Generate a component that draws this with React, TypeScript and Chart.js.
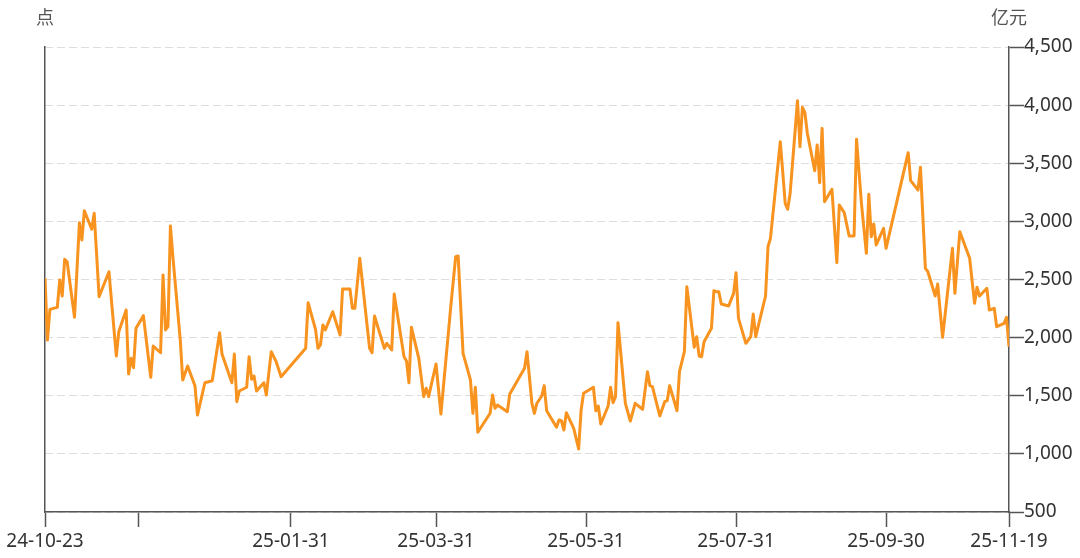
import React, { useEffect, useRef } from "react";
import { Chart, registerables } from "chart.js";

Chart.register(...registerables);

// Day offsets counted from 2024-10-23
const DAYS: number[] = [
  0, 1, 2, 5, 6, 7, 8, 9, 12, 14, 15, 16, 19, 20, 22, 26, 29, 30, 33, 34,
  35, 36, 37, 40, 43, 44, 47, 48, 49, 50, 51, 52, 55, 56, 58, 61, 62, 65, 68, 71,
  72, 76, 77, 78, 79, 82, 83, 84, 85, 86, 89, 90, 92, 94, 96, 106, 107, 110, 111, 112,
  113, 114, 117, 120, 121, 124, 125, 126, 128, 132, 133, 134, 138, 139, 141, 142, 146, 147, 148, 149,
  152, 154, 155, 156, 159, 161, 165, 167, 168, 170, 173, 174, 175, 176, 181, 182, 183, 184, 188, 189,
  195, 196, 198, 199, 200, 202, 203, 204, 208, 209, 210, 211, 212, 215, 217, 218, 219, 223, 224, 225,
  226, 229, 230, 231, 232, 233, 236, 238, 240, 243, 245, 246, 247, 250, 252, 253, 254, 257, 258, 260,
  261, 264, 265, 266, 267, 268, 271, 272, 273, 274, 275, 278, 280, 281, 282, 285, 287, 288, 289, 293,
  294, 295, 299, 301, 302, 303, 306, 307, 308, 309, 310, 313, 314, 315, 316, 317, 320, 322, 323, 325,
  327, 329, 330, 332, 334, 335, 336, 337, 338, 341, 342, 351, 352, 355, 356, 358, 359, 362, 363, 365,
  369, 370, 372, 376, 378, 379, 380, 383, 384, 386, 387, 390, 391, 392,
];

const VALUES: number[] = [
  2510, 1979, 2243, 2261, 2496, 2358, 2674, 2653, 2175, 2989, 2840, 3092, 2932, 3070, 2352, 2567, 1842, 2051, 2238, 1687,
  1822, 1741, 2080, 2189, 1659, 1928, 1870, 2539, 2066, 2094, 2960, 2696, 1980, 1636, 1756, 1584, 1334, 1612, 1629, 2042,
  1856, 1612, 1859, 1449, 1541, 1573, 1836, 1641, 1670, 1541, 1612, 1506, 1879, 1793, 1664, 1908, 2300, 2071, 1908, 1937,
  2109, 2066, 2223, 2023, 2418, 2418, 2252, 2252, 2682, 1908, 1870, 2186, 1908, 1951, 1894, 2375, 1836, 1799, 1612, 2089,
  1822, 1492, 1564, 1492, 1773, 1343, 2266, 2696, 2702, 1865, 1636, 1349, 1573, 1186, 1349, 1506, 1392, 1420, 1363, 1515,
  1736, 1879, 1435, 1349, 1435, 1498, 1587, 1371, 1229, 1291, 1285, 1205, 1354, 1220, 1042, 1377, 1521, 1573, 1371, 1412,
  1257, 1412, 1573, 1440, 1492, 2129, 1435, 1283, 1435, 1383, 1707, 1587, 1578, 1326, 1449, 1458, 1587, 1371, 1707, 1879,
  2438, 1917, 2008, 1842, 1836, 1965, 2080, 2404, 2395, 2395, 2289, 2272, 2381, 2559, 2166, 1951, 2008, 2203, 2008, 2358,
  2782, 2854, 3685, 3155, 3104, 3241, 4038, 3642, 3981, 3935, 3758, 3436, 3657, 3333, 3800, 3169, 3276, 2645, 3141, 3075,
  2874, 2874, 3706, 3155, 2725, 3233, 2868, 2977, 2797, 2940, 2768, 3591, 3350, 3270, 3465, 2596, 2567, 2358, 2461, 2003,
  2768, 2381, 2911, 2682, 2295, 2433, 2358, 2424, 2238, 2252, 2094, 2123, 2175, 1922,
];

const TICK_DAYS: number[] = [0, 38, 100, 159, 220, 281, 342, 392];
const TICK_LABELS: string[] = ["24-10-23", "", "25-01-31", "25-03-31", "25-05-31", "25-07-31", "25-09-30", "25-11-19"];

const Y_MIN = 500;
const Y_MAX = 4500;
const Y_STEP = 500;

const LEFT_TITLE = "点";
const RIGHT_TITLE = "亿元";

const AXIS_COLOR = "#555555";
const LABEL_COLOR = "#333333";
const TICK_FONT = { family: '"Noto Sans", "Noto Sans CJK SC", sans-serif', size: 19 };

const titlePlugin = {
  id: "cornerTitles",
  afterDraw(chart: any) {
    const { ctx, chartArea } = chart;
    ctx.save();
    ctx.font = '18px "Noto Sans CJK SC", sans-serif';
    ctx.fillStyle = "#555555";
    ctx.textAlign = "center";
    ctx.textBaseline = "middle";
    ctx.fillText(LEFT_TITLE, chartArea.left, chartArea.top - 30);
    ctx.fillText(RIGHT_TITLE, chartArea.right, chartArea.top - 30);
    ctx.restore();
  },
};

export default function App() {
  const canvasRef = useRef<HTMLCanvasElement | null>(null);

  useEffect(() => {
    if (!canvasRef.current) return;
    const chart = new Chart(canvasRef.current, {
      type: "line",
      data: {
        datasets: [
          {
            data: DAYS.map((d, i) => ({ x: d, y: VALUES[i] })),
            yAxisID: "y",
            borderColor: "#F7931E",
            borderWidth: 3,
            pointRadius: 0,
            fill: false,
            tension: 0,
            borderJoinStyle: "round",
          },
        ],
      },
      options: {
        animation: false,
        responsive: false,
        maintainAspectRatio: false,
        layout: { padding: { top: 47, left: 0, right: 0, bottom: 0 } },
        plugins: {
          legend: { display: false },
          tooltip: { enabled: false },
        },
        scales: {
          x: {
            type: "linear",
            min: TICK_DAYS[0],
            max: TICK_DAYS[TICK_DAYS.length - 1],
            afterBuildTicks: (scale: any) => {
              scale.ticks = TICK_DAYS.map((v) => ({ value: v }));
            },
            afterFit: (scale: any) => {
              scale.height = 46;
            },
            ticks: {
              autoSkip: false,
              maxRotation: 0,
              padding: 3,
              font: TICK_FONT,
              color: LABEL_COLOR,
              callback: (v: any) => {
                const i = TICK_DAYS.indexOf(Number(v));
                return i >= 0 ? TICK_LABELS[i] : "";
              },
            },
            grid: {
              drawOnChartArea: false,
              drawTicks: true,
              tickLength: 15,
              tickColor: AXIS_COLOR,
              tickWidth: 1.5,
            },
            border: { display: true, color: AXIS_COLOR, width: 1.5 },
          },
          yL: {
            position: "left",
            min: Y_MIN,
            max: Y_MAX,
            ticks: { display: false },
            grid: { display: false, drawTicks: false },
            border: { display: true, color: AXIS_COLOR, width: 1.5 },
            afterFit: (scale: any) => {
              scale.width = 45;
            },
          },
          y: {
            position: "right",
            min: Y_MIN,
            max: Y_MAX,
            ticks: {
              stepSize: Y_STEP,
              padding: 0,
              font: TICK_FONT,
              color: LABEL_COLOR,
              callback: (v: any) => Number(v).toLocaleString("en-US"),
            },
            grid: {
              color: "#dddddd",
              lineWidth: 1,
              drawTicks: true,
              tickLength: 15,
              tickColor: AXIS_COLOR,
              tickWidth: 1.5,
              tickBorderDash: [],
            },
            border: { display: true, color: AXIS_COLOR, width: 1.5, dash: [8, 4] },
            afterFit: (scale: any) => {
              scale.width = 71;
            },
          },
        },
      } as any,
      plugins: [titlePlugin],
    });
    return () => chart.destroy();
  }, []);

  return (
    <div style={{ position: "absolute", left: 0, top: 0, width: 1080, height: 558, background: "#ffffff" }}>
      <canvas ref={canvasRef} width={1080} height={558} style={{ display: "block" }} />
    </div>
  );
}
